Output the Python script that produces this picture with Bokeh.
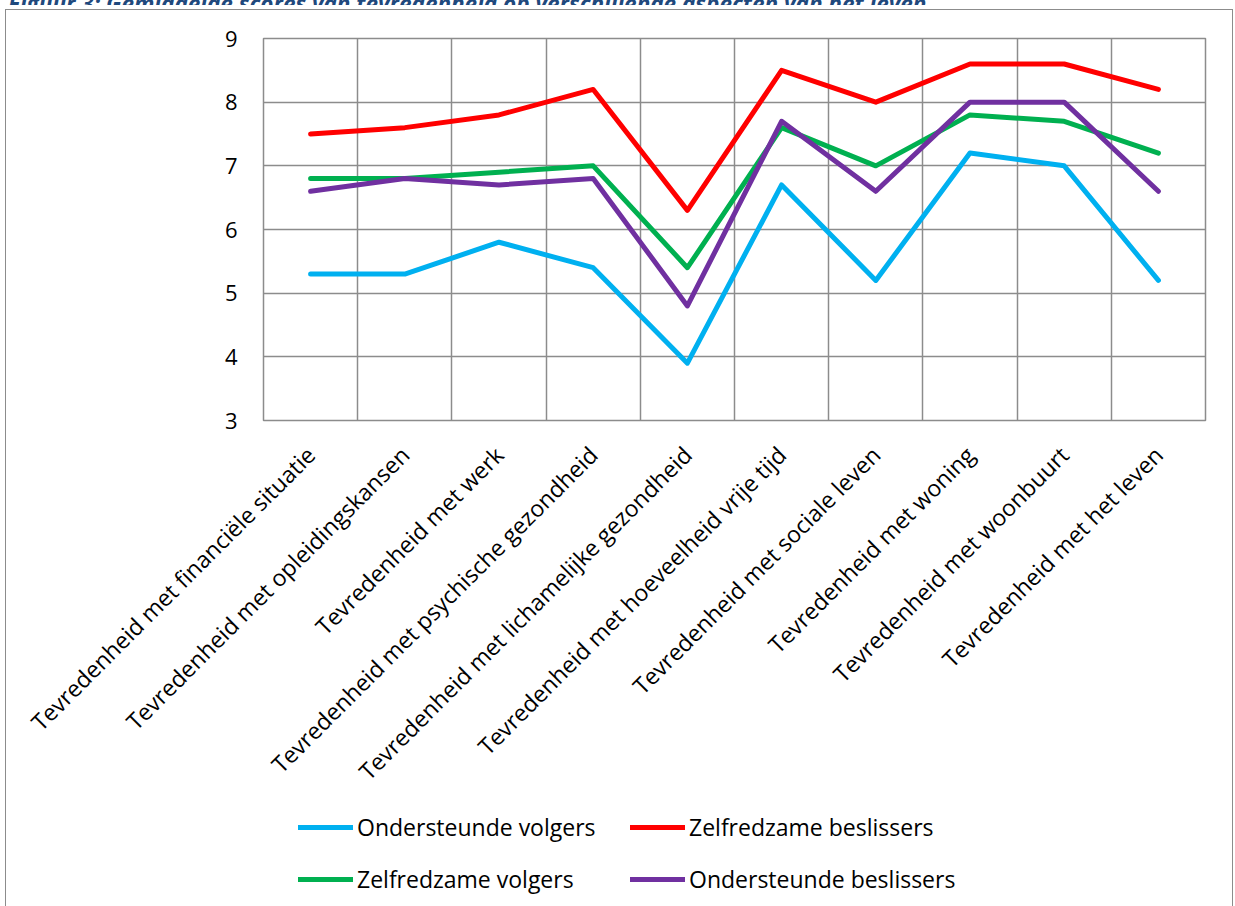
import math
from bokeh.plotting import figure
from bokeh.layouts import column
from bokeh.models import (FixedTicker, Legend, LegendItem, Div,
                          ColumnDataSource, Range1d, InlineStyleSheet)
from bokeh.embed import file_html
from bokeh.resources import INLINE

categories = [
    "Tevredenheid met financiële situatie",
    "Tevredenheid met opleidingskansen",
    "Tevredenheid met werk",
    "Tevredenheid met psychische gezondheid",
    "Tevredenheid met lichamelijke gezondheid",
    "Tevredenheid met hoeveelheid vrije tijd",
    "Tevredenheid met sociale leven",
    "Tevredenheid met woning",
    "Tevredenheid met woonbuurt",
    "Tevredenheid met het leven",
]
ondersteunde_volgers = [5.3, 5.3, 5.8, 5.4, 3.9, 6.7, 5.2, 7.2, 7.0, 5.2]
zelfredzame_beslissers = [7.5, 7.6, 7.8, 8.2, 6.3, 8.5, 8.0, 8.6, 8.6, 8.2]
zelfredzame_volgers = [6.8, 6.8, 6.9, 7.0, 5.4, 7.6, 7.0, 7.8, 7.7, 7.2]
ondersteunde_beslissers = [6.6, 6.8, 6.7, 6.8, 4.8, 7.7, 6.6, 8.0, 8.0, 6.6]
y_ticks = [3, 4, 5, 6, 7, 8, 9]
caption = "Figuur 3: Gemiddelde scores van tevredenheid op verschillende aspecten van het leven"

FONT = "Open Sans"
GRID = "#8c8c8c"
W = 1235
CAP_H = 5          # strip with the cut-off page caption
MAIN_H = 795       # chart with axes
LEG_H = 906 - CAP_H - MAIN_H

n = len(categories)
xs = [i + 0.5 for i in range(n)]

# --- caption strip (only the bottom of the caption is visible) -------------
cap = Div(text=('<div style="margin:-19px 0 0 8px; white-space:nowrap; '
                'font-family:\'Open Sans\'; font-size:22.5px; line-height:24px; '
                'font-weight:bold; font-style:italic; color:#1F497D;">'
                + caption + '</div>'),
          width=W, height=CAP_H, margin=0, styles={"overflow": "hidden"})

# --- main chart ------------------------------------------------------------
p = figure(width=W, height=MAIN_H, output_backend="svg", toolbar_location=None,
           title=None, x_range=Range1d(0, n), y_range=Range1d(3, 9),
           min_border_left=263, min_border_right=30, min_border_top=38 - CAP_H,
           min_border_bottom=MAIN_H - (38 - CAP_H) - 382)
p.background_fill_color = "white"
p.border_fill_color = "white"
p.outline_line_color = GRID
p.outline_line_width = 1.5

p.xaxis.ticker = FixedTicker(ticks=xs)
p.xaxis.major_label_overrides = {x: c for x, c in zip(xs, categories)}
p.xaxis.major_label_orientation = math.pi / 4
p.xaxis.major_tick_line_color = None
p.xaxis.major_tick_out = 0
p.xaxis.major_tick_in = 0
p.xaxis.minor_tick_line_color = None
p.xaxis.axis_line_color = None
p.xaxis.major_label_standoff = 30
p.xaxis.major_label_text_font = FONT
p.xaxis.major_label_text_font_size = "23px"
p.xaxis.major_label_text_color = "black"

p.yaxis.ticker = FixedTicker(ticks=y_ticks)
p.yaxis.major_tick_line_color = None
p.yaxis.major_tick_out = 0
p.yaxis.major_tick_in = 0
p.yaxis.minor_tick_line_color = None
p.yaxis.axis_line_color = None
p.yaxis.major_label_standoff = 26
p.yaxis.major_label_text_font = FONT
p.yaxis.major_label_text_font_size = "22px"
p.yaxis.major_label_text_color = "black"

p.xgrid.ticker = FixedTicker(ticks=list(range(n + 1)))
p.xgrid.grid_line_color = GRID
p.xgrid.grid_line_width = 1.5
p.ygrid.ticker = FixedTicker(ticks=y_ticks)
p.ygrid.grid_line_color = GRID
p.ygrid.grid_line_width = 1.5

series = [
    ("Ondersteunde volgers", ondersteunde_volgers, "#00B0F0"),
    ("Zelfredzame beslissers", zelfredzame_beslissers, "#FF0000"),
    ("Zelfredzame volgers", zelfredzame_volgers, "#00B050"),
    ("Ondersteunde beslissers", ondersteunde_beslissers, "#7030A0"),
]
for name, vals, col in series:
    src = ColumnDataSource(dict(x=xs, y=vals))
    p.line("x", "y", source=src, line_color=col, line_width=5,
           line_join="round", line_cap="round")

# --- legend strip (its frame is aligned with the chart's frame) -------------
leg = figure(width=W, height=LEG_H, output_backend="svg", toolbar_location=None,
             title=None, x_range=Range1d(0, 1), y_range=Range1d(0, 1), min_border=0)
leg.axis.visible = False
leg.grid.visible = False
leg.outline_line_color = None
leg.background_fill_color = "white"
leg.border_fill_color = "white"
proxies = {}
for name, vals, col in series:
    # same series, outside this strip's ranges: only used for legend swatches
    src = ColumnDataSource(dict(x=xs, y=vals))
    proxies[name] = leg.line("x", "y", source=src, line_color=col, line_width=5,
                             line_cap="round")

order = ["Ondersteunde volgers", "Zelfredzame volgers",
         "Zelfredzame beslissers", "Ondersteunde beslissers"]
lg = Legend(items=[LegendItem(label=nm, renderers=[proxies[nm]]) for nm in order],
            location=(35, 11), orientation="vertical", ncols=2)
lg.glyph_width = 55
lg.glyph_height = 30
lg.label_height = 30
lg.label_width = 253
lg.spacing = 20
lg.padding = 0
lg.margin = 0
lg.label_standoff = 4
lg.border_line_color = None
lg.background_fill_alpha = 0
lg.label_text_font = FONT
lg.label_text_font_size = "23px"
lg.label_text_color = "black"
lg.label_text_baseline = "middle"
leg.add_layout(lg, "center")

layout = column(cap, p, leg, spacing=0)
layout.stylesheets = [InlineStyleSheet(css=""":host { position: relative; }
:host::after { content: ''; position: absolute; left: 5px; top: 9px; width: 1228px;
  height: 930px; border: 1.5px solid #8c8c8c; box-sizing: border-box; pointer-events: none; }""")]

open("out.html", "w").write(file_html(layout, INLINE))
